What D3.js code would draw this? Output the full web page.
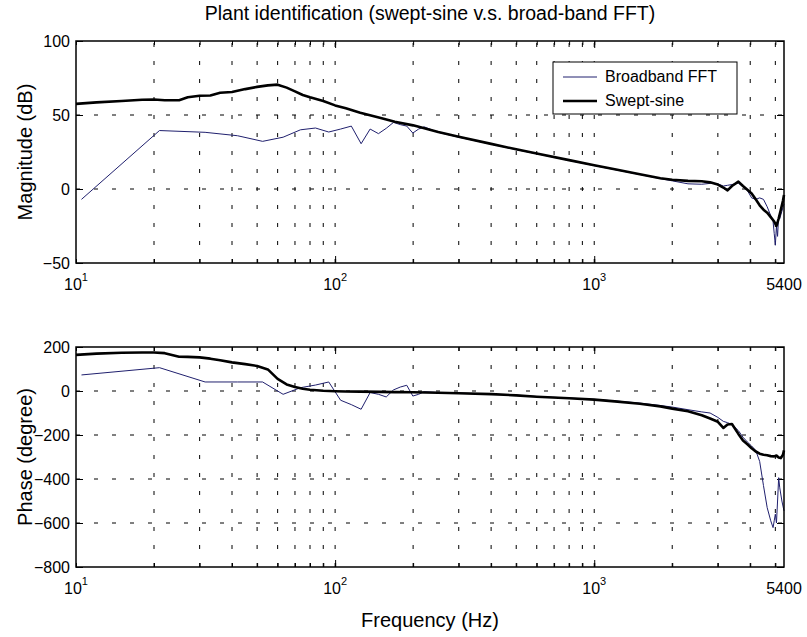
<!DOCTYPE html>
<html>
<head>
<meta charset="utf-8">
<script src="https://cdn.jsdelivr.net/npm/d3@7"></script>
<style>
  body { margin: 0; background: #fff; }
  text { font-family: "Liberation Sans", Arial, sans-serif; fill: #000; }
</style>
</head>
<body>
<div id="chart"></div>
<script>
// swept-sine measurement (dense, thick black line)
const sweptFreq = [10, 12, 15, 18, 20, 22, 25, 27, 30, 33, 36, 40, 45, 50, 55, 60, 65, 70, 75, 80, 90,
  100, 110, 125, 150, 170, 200, 250, 300, 400, 500, 600, 800, 1000, 1200, 1500, 1800, 2000, 2300, 2600,
  2800, 3000, 3150, 3270, 3400, 3600, 3750, 3900, 4050, 4200, 4350, 4500, 4650, 4800, 4950, 5050, 5150,
  5250, 5350, 5400];
const sweptMag = [57.5, 58.5, 59.5, 60.3, 60.5, 60, 60, 62, 63, 63.2, 65, 65.5, 67.5, 69, 70, 70.5, 68.5,
  66, 63.5, 62, 59.5, 56.5, 54.5, 51.5, 48, 45.5, 43, 38.5, 35.3, 30.5, 26.8, 24, 19.5, 16, 13.3, 10, 7.3,
  6.3, 5.5, 5.2, 4.5, 3, 1, -0.9, 2, 5, 2, -0.5, -3, -7, -11, -14, -16, -19, -22, -25, -20, -14, -8, -4];
const sweptPhase = [164, 170, 174, 175, 175, 172, 156, 155, 153, 147, 140, 130, 122, 114, 98, 55, 30, 18,
  10, 6, 1, -1, -2, -3, -4, -5, -6, -8, -10, -14, -20, -26, -33, -39, -47, -58, -70, -80, -92, -110, -125,
  -140, -168, -152, -150, -195, -225, -242, -260, -275, -285, -290, -292, -296, -297, -293, -302, -305,
  -290, -270];

// broadband FFT estimate (thin blue line)
const fftFreq = [10.5, 21, 31.5, 42, 52.5, 63, 73.5, 84, 94.5, 105, 115.5, 126, 136.5, 147, 157.5, 168,
  178.5, 189, 199.5, 210, 220.5, 250, 300, 400, 500, 600, 800, 1000, 1200, 1500, 1800, 2000, 2300, 2600,
  2800, 3000, 3150, 3270, 3400, 3600, 3750, 3900, 4050, 4200, 4350, 4500, 4650, 4800, 4900, 4950, 5000,
  5050, 5100, 5150, 5200, 5300, 5400];
const fftMag = [-7, 39.5, 38.3, 36, 32.2, 35, 40, 41.2, 38.5, 40.5, 42.5, 30.6, 40.5, 37.4, 41, 45, 43.5,
  42.5, 37.8, 40.5, 42, 38.3, 35, 30.3, 26.6, 23.8, 19.3, 15.8, 13.1, 9.8, 7, 5.5, 3.5, 3.2, 3.8, 3.5, 2,
  2.5, 3, 4, 1.5, -1, -6, -7, -6, -7, -12, -18, -22, -30, -38, -25, -32, -18, -20, -15, -10];
const fftPhase = [73, 106, 41, 41, 41, -15, 15, 27, 41, -42, -62, -83, -7, -15, -27, 5, 18, 26, -23, -15,
  -3, -7, -10, -14, -19, -25, -32, -38, -45, -55, -66, -73, -85, -95, -100, -120, -138, -144, -152, -180,
  -210, -232, -250, -270, -320, -430, -530, -590, -621, -590, -560, -600, -500, -394, -440, -500, -545];

const magTicks = [-50, 0, 50, 100];
const phaseTicks = [-800, -600, -400, -200, 0, 200];
const freqTicks = [10, 100, 1000, 5400];
const seriesNames = ["Broadband FFT", "Swept-sine"];

const width = 807, height = 637;
const plotLeft = 76, plotRight = 784;

const svg = d3.select("#chart")
  .append("svg")
  .attr("width", width)
  .attr("height", height);

const x = d3.scaleLog()
  .domain([10, 5400])
  .range([plotLeft, plotRight]);

// title
svg.append("text")
  .attr("x", (plotLeft + plotRight) / 2)
  .attr("y", 20)
  .attr("text-anchor", "middle")
  .style("font-size", "19.5px")
  .text("Plant identification (swept-sine v.s. broad-band FFT)");

function drawPanel(top, bottom, yTicks, yLabel, fftVals, sweptVals) {
  const y = d3.scaleLinear()
    .domain([yTicks[0], yTicks[yTicks.length - 1]])
    .range([bottom, top]);
  const g = svg.append("g");

  // dashed grid
  g.append("g").selectAll("line")
    .data(x.ticks().filter(f => f > 10 && f < 5400))
    .join("line")
    .attr("x1", d => x(d)).attr("x2", d => x(d))
    .attr("y1", bottom).attr("y2", top)
    .attr("stroke", "#000")
    .attr("stroke-dasharray", "4,14");
  g.append("g").selectAll("line")
    .data(yTicks.slice(1, -1))
    .join("line")
    .attr("x1", plotLeft).attr("x2", plotRight)
    .attr("y1", d => y(d)).attr("y2", d => y(d))
    .attr("stroke", "#000")
    .attr("stroke-dasharray", "4,14");

  // inward ticks on all four sides
  const noDomain = a => a.select(".domain").remove();
  g.append("g").attr("transform", `translate(0,${bottom})`)
    .call(d3.axisBottom(x).tickValues(x.ticks()).tickSize(-4).tickFormat(""))
    .call(noDomain);
  g.append("g").attr("transform", `translate(0,${bottom})`)
    .call(d3.axisBottom(x).tickValues([100, 1000]).tickSize(-7).tickFormat(""))
    .call(noDomain);
  g.append("g").attr("transform", `translate(0,${top})`)
    .call(d3.axisTop(x).tickValues(x.ticks()).tickSize(-4).tickFormat(""))
    .call(noDomain);
  g.append("g").attr("transform", `translate(0,${top})`)
    .call(d3.axisTop(x).tickValues([100, 1000]).tickSize(-7).tickFormat(""))
    .call(noDomain);
  g.append("g").attr("transform", `translate(${plotLeft},0)`)
    .call(d3.axisLeft(y).tickValues(yTicks).tickSize(-7).tickPadding(6))
    .call(noDomain)
    .selectAll("text")
    .style("font-size", "16px")
    .attr("font-family", null);
  g.append("g").attr("transform", `translate(${plotRight},0)`)
    .call(d3.axisRight(y).tickValues(yTicks).tickSize(-7).tickFormat(""))
    .call(noDomain);

  // frequency tick labels, powers of ten with superscripts
  g.append("g").selectAll("text")
    .data(freqTicks)
    .join("text")
    .attr("x", d => x(d))
    .attr("y", bottom + 27)
    .attr("text-anchor", "middle")
    .style("font-size", "16px")
    .each(function (d) {
      const p = Math.round(Math.log10(d));
      const t = d3.select(this);
      if (Math.pow(10, p) === d) {
        t.append("tspan").text("10");
        t.append("tspan").attr("dy", -9).style("font-size", "11px").text(p);
      } else {
        t.text(d);
      }
    });

  // data lines
  const line = d3.line()
    .x(d => x(d[0]))
    .y(d => y(d[1]));
  g.append("path")
    .datum(d3.zip(fftFreq, fftVals))
    .attr("fill", "none")
    .attr("stroke", "#20206e")
    .attr("stroke-width", 1)
    .attr("d", line);
  g.append("path")
    .datum(d3.zip(sweptFreq, sweptVals))
    .attr("fill", "none")
    .attr("stroke", "#000")
    .attr("stroke-width", 2.6)
    .attr("stroke-linejoin", "round")
    .attr("d", line);

  // axes box
  g.append("rect")
    .attr("x", plotLeft).attr("y", top)
    .attr("width", plotRight - plotLeft).attr("height", bottom - top)
    .attr("fill", "none")
    .attr("stroke", "#000")
    .attr("stroke-width", 1.5);

  // y label
  g.append("text")
    .attr("transform", `translate(32,${(top + bottom) / 2}) rotate(-90)`)
    .attr("text-anchor", "middle")
    .style("font-size", "20px")
    .text(yLabel);

  return g;
}

const magPanel = drawPanel(41, 263, magTicks, "Magnitude (dB)", fftMag, sweptMag);
drawPanel(347, 567, phaseTicks, "Phase (degree)", fftPhase, sweptPhase);

// x label
svg.append("text")
  .attr("x", (plotLeft + plotRight) / 2)
  .attr("y", 627)
  .attr("text-anchor", "middle")
  .style("font-size", "20px")
  .text("Frequency (Hz)");

// legend in the magnitude panel
const legend = magPanel.append("g").attr("transform", "translate(553,62)");
legend.append("rect")
  .attr("width", 184).attr("height", 52)
  .attr("fill", "#fff")
  .attr("stroke", "#000");
const legendStyle = [{color: "#20206e", w: 1}, {color: "#000", w: 2.6}];
seriesNames.forEach(function (name, i) {
  legend.append("line")
    .attr("x1", 10).attr("x2", 44)
    .attr("y1", 15 + i * 24).attr("y2", 15 + i * 24)
    .attr("stroke", legendStyle[i].color)
    .attr("stroke-width", legendStyle[i].w);
  legend.append("text")
    .attr("x", 52).attr("y", 20 + i * 24)
    .style("font-size", "16px")
    .text(name);
});
</script>
</body>
</html>
